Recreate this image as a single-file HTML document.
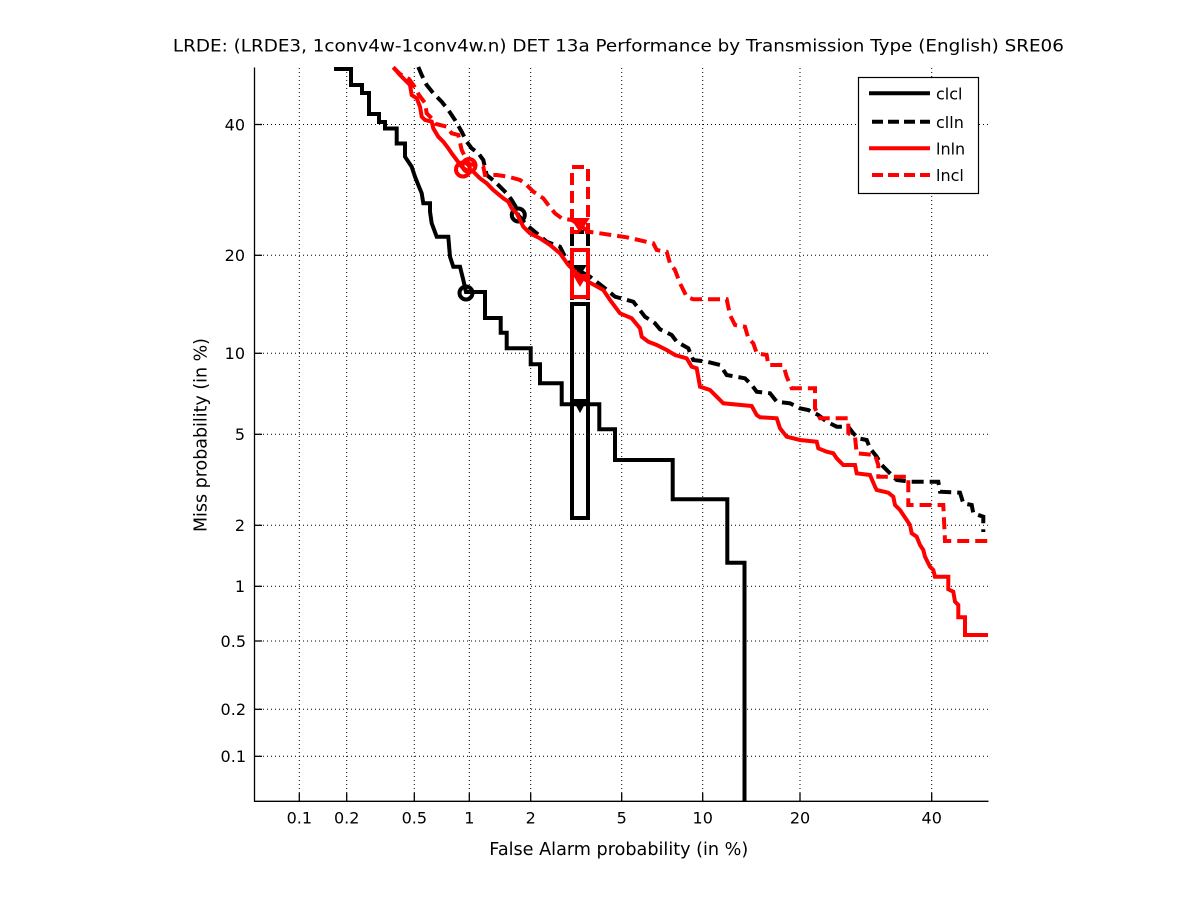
<!DOCTYPE html>
<html>
<head>
<meta charset="utf-8">
<style>
html,body{margin:0;padding:0;background:#fff;}
svg{display:block;}
text{font-family:"DejaVu Sans","Liberation Sans",sans-serif;fill:#000;}
</style>
</head>
<body>
<svg width="1201" height="900" viewBox="0 0 1201 900" xmlns="http://www.w3.org/2000/svg">
<rect x="0" y="0" width="1201" height="900" fill="#fff"/>

<!-- grid -->
<g stroke="#000" stroke-width="1" stroke-dasharray="1 3" fill="none">
  <line x1="299.3" y1="68" x2="299.3" y2="801"/>
  <line x1="346.7" y1="68" x2="346.7" y2="801"/>
  <line x1="414.3" y1="68" x2="414.3" y2="801"/>
  <line x1="469.3" y1="68" x2="469.3" y2="801"/>
  <line x1="530.7" y1="68" x2="530.7" y2="801"/>
  <line x1="621.7" y1="68" x2="621.7" y2="801"/>
  <line x1="702.7" y1="68" x2="702.7" y2="801"/>
  <line x1="800" y1="68" x2="800" y2="801"/>
  <line x1="931.7" y1="68" x2="931.7" y2="801"/>
  <line x1="255" y1="124.5" x2="988" y2="124.5"/>
  <line x1="255" y1="255.3" x2="988" y2="255.3"/>
  <line x1="255" y1="353.3" x2="988" y2="353.3"/>
  <line x1="255" y1="434.3" x2="988" y2="434.3"/>
  <line x1="255" y1="525.3" x2="988" y2="525.3"/>
  <line x1="255" y1="586.3" x2="988" y2="586.3"/>
  <line x1="255" y1="641" x2="988" y2="641"/>
  <line x1="255" y1="709.3" x2="988" y2="709.3"/>
  <line x1="255" y1="756.3" x2="988" y2="756.3"/>
</g>

<!-- axes -->
<g stroke="#000" stroke-width="1.3" fill="none">
  <line x1="254.5" y1="67.5" x2="254.5" y2="801.5"/>
  <line x1="254" y1="801.3" x2="988.5" y2="801.3"/>
  <line x1="254.5" y1="124.5" x2="262" y2="124.5"/>
  <line x1="254.5" y1="255.3" x2="262" y2="255.3"/>
  <line x1="254.5" y1="353.3" x2="262" y2="353.3"/>
  <line x1="254.5" y1="434.3" x2="262" y2="434.3"/>
  <line x1="254.5" y1="525.3" x2="262" y2="525.3"/>
  <line x1="254.5" y1="586.3" x2="262" y2="586.3"/>
  <line x1="254.5" y1="641" x2="262" y2="641"/>
  <line x1="254.5" y1="709.3" x2="262" y2="709.3"/>
  <line x1="254.5" y1="756.3" x2="262" y2="756.3"/>
  <line x1="299.3" y1="801" x2="299.3" y2="793"/>
  <line x1="346.7" y1="801" x2="346.7" y2="793"/>
  <line x1="414.3" y1="801" x2="414.3" y2="793"/>
  <line x1="469.3" y1="801" x2="469.3" y2="793"/>
  <line x1="530.7" y1="801" x2="530.7" y2="793"/>
  <line x1="621.7" y1="801" x2="621.7" y2="793"/>
  <line x1="702.7" y1="801" x2="702.7" y2="793"/>
  <line x1="800" y1="801" x2="800" y2="793"/>
  <line x1="931.7" y1="801" x2="931.7" y2="793"/>
</g>

<!-- tick labels -->
<g font-size="16" text-anchor="middle">
  <text x="299.3" y="823.5">0.1</text>
  <text x="346.7" y="823.5">0.2</text>
  <text x="414.3" y="823.5">0.5</text>
  <text x="469.3" y="823.5">1</text>
  <text x="530.7" y="823.5">2</text>
  <text x="621.7" y="823.5">5</text>
  <text x="702.7" y="823.5">10</text>
  <text x="800" y="823.5">20</text>
  <text x="931.7" y="823.5">40</text>
</g>
<g font-size="16" text-anchor="end">
  <text x="245" y="130.3">40</text>
  <text x="245" y="261.1">20</text>
  <text x="245" y="359.1">10</text>
  <text x="245" y="440.1">5</text>
  <text x="245" y="531.1">2</text>
  <text x="245" y="592.1">1</text>
  <text x="246" y="646.8">0.5</text>
  <text x="246" y="715.1">0.2</text>
  <text x="246" y="762.1">0.1</text>
</g>

<!-- title & labels -->
<text x="618.4" y="51.5" font-size="16.5" text-anchor="middle" textLength="891" lengthAdjust="spacingAndGlyphs">LRDE: (LRDE3, 1conv4w-1conv4w.n) DET 13a Performance by Transmission Type (English) SRE06</text>
<text x="618.8" y="855" font-size="18" text-anchor="middle" textLength="259" lengthAdjust="spacingAndGlyphs">False Alarm probability (in %)</text>
<text x="0" y="0" font-size="18" text-anchor="middle" textLength="194" lengthAdjust="spacingAndGlyphs" transform="translate(206.7,435) rotate(-90)">Miss probability (in %)</text>

<g fill="none" stroke-linejoin="miter" stroke-linecap="butt">
<!-- clcl: solid black -->
<path stroke="#000" stroke-width="4" d="M334,69 H351 V85 H362 V93 H369 V114 H379 V122 H385 V128.5 H396.7 V143.5 H405 V156.7 L411.7,166.7 L415,176.7 L418.3,185 L421.7,193.3 L423.3,203.3 H430 V211.7 L431.7,223.3 L436.7,236.7 H448.3 L450,256.7 L453.3,266.7 H460 L463.3,280 L466,292 H485 V318 H500.7 V332.7 H506.7 V348.3 H530.7 V364.3 H540 V383.3 H561.7 V404.3 H599.3 V429.3 H615 V460 H672.7 V499.3 H727.3 V562.7 H744.5 V801"/>
<rect x="572" y="304" width="16" height="214" stroke="#000" stroke-width="4"/>
<circle cx="466" cy="293" r="6.5" stroke="#000" stroke-width="4"/>
<polygon points="574,400 586,400 580,411" fill="#000" stroke="#000" stroke-width="2"/>

<!-- clln: dashed black -->
<path stroke="#000" stroke-width="4" stroke-dasharray="12 6" d="M418.3,67 L421.7,75 L426.7,85 L433.3,93.3 L441.7,101.7 L448.3,110 L455,120 L461.7,131.7 L466.7,141.7 L471.7,148.3 L478.3,153.3 L483.3,160 L486.7,175 L495,181.7 L500,186.7 L506.7,193.3 L511.7,200 L516.7,208.3 L518,215 L526.7,225 L536.7,233.3 L546.7,241.7 L560,246.7 L566.7,260 L571.7,266.7 L590,276.7 L605,288.3 L615,296.7 L633.3,301.7 L645,316.7 L655,323.3 L660,329.3 L671.7,335 L676.7,341.7 L688.3,348.3 L693.3,360 L706.7,361.7 L720,365 L726.7,375 L745,378.3 L751.7,385 L756.7,391.7 L770,393.3 L776.7,401.7 L790,403.3 L800,408.3 L808.3,410 L818.3,415 L826.7,421.7 L836.7,426.7 L848.3,426.7 L853.3,433.3 L858.3,438.3 L866.7,440 L870,448.3 L876.7,456.7 L881.7,465 L890,473.3 L896.7,480 L910,481.7 H938.3 L940,491.7 L960,492.7 L963.3,503.3 L971.7,505 L973.3,513.3 L983.3,516.7 V532"/>
<rect x="572" y="232" width="16" height="72" stroke="#000" stroke-width="4" stroke-dasharray="12 6"/>
<circle cx="518.3" cy="215" r="6.5" stroke="#000" stroke-width="4"/>
<polygon points="575,266 585,266 580,274" fill="#000" stroke="#000" stroke-width="2"/>

<!-- lnln: solid red -->
<path stroke="#f00" stroke-width="4" d="M393.3,67.3 L400,75 L405,80 L410,85 L411.7,95 L416.7,98.3 L420,106.7 L421.7,116.7 L425,120 L431.7,121.7 L433.3,128.3 L438.3,136.7 L443.3,141.7 L448.3,148.3 L451.7,153.3 L456.7,160 L461.7,166.7 L466,170 L473.3,171.7 L480,178.3 L486.7,183.3 L493.3,190 L503.3,198.3 L508.3,201.7 L511.7,208.3 L516.7,213.3 L523.3,226.7 L530,233.3 L540,238.3 L550,245 L560,253.3 L568.3,265 L576.7,273.3 L588.3,281.7 L603.3,290 L610,300 L620,313.3 L631.7,318.3 L640,328.3 L641.7,336.7 L648.3,341.7 L656.7,345 L666.7,350 L675,355 L686.7,358.3 L691.7,366.7 L696.7,368.3 L700,386.7 L710,390 L716.7,396.7 L723.3,403.3 L751.7,406 L756.7,415 L760,417.3 L776.7,418.3 L780,428.3 L786.7,436.7 L800,440 L816.7,441.7 L818.3,448.3 L826.7,451.7 L833.3,453.3 L836.7,458.3 L843.3,465 L855,465 L856.7,473.3 L870,475 L875,486.7 L876.7,490 L888.3,492.7 L893.3,496.7 L895,505 L900,510 L906.7,520 L910,525 L911.7,533.3 L916.7,536.7 L920,545 L923.3,550 L925,556.7 L930,566.7 L933.3,570 L935,576.7 H948.3 V589.3 L953.3,591.7 L955,601.7 L958.3,605 V617.3 H965 V635 H988"/>
<rect x="572" y="250" width="16" height="47" stroke="#f00" stroke-width="4"/>
<circle cx="463" cy="169.5" r="7" stroke="#f00" stroke-width="4"/>
<polygon points="574,275 586,275 580,285" fill="#f00" stroke="#f00" stroke-width="2"/>

<!-- lncl: dashed red -->
<path stroke="#f00" stroke-width="4" stroke-dasharray="12 6" d="M393.3,67.3 L400,74 L409,79 L414,86 L419,95 L425,103 L426.7,113.3 L431.7,118.3 L436,124 L446.7,126.7 L451.7,133.3 L458.3,135 L461.7,150 L465,156.7 L469,164 L483.3,166.7 L485,175 L496.7,175 L508.3,176.7 L520,180 L526.7,185 L533.3,191.7 L543.3,198.3 L548.3,205 L555,213.3 L561.7,218.3 L571.7,220 L580,225 L588.3,231.7 L600,233.3 L626.7,237.3 L653.3,243.3 L656.7,250 L666.7,251.7 L670,263.3 L675,270 L680,283.3 L686.7,296.7 L693.3,299.3 L726.7,299.3 L730,315 L735,325 L745,326.7 L748.3,338.3 L753.3,343.3 L756.7,353.3 L766.7,355 L768.3,365 L783.3,365 L786.7,376.7 L791.7,388.3 L815,388.3 V408.3 L820,418.3 H848.3 V433.3 L855,436.7 L856.7,453.3 L875,455 L878.3,465 V476.7 H908.3 V505 H943.3 L945,541 H988"/>
<rect x="572" y="167" width="16" height="65" stroke="#f00" stroke-width="4" stroke-dasharray="12 6"/>
<circle cx="469" cy="165.5" r="6.5" stroke="#f00" stroke-width="4"/>
<polygon points="572,219 588,219 580,231" fill="#f00" stroke="#f00" stroke-width="2"/>
</g>

<!-- legend -->
<rect x="858.5" y="77.5" width="120" height="116" fill="#fff" stroke="#000" stroke-width="1.2"/>
<g fill="none" stroke-width="4">
  <line x1="869" y1="93.3" x2="930" y2="93.3" stroke="#000"/>
  <line x1="872" y1="121.7" x2="930" y2="121.7" stroke="#000" stroke-dasharray="11 5"/>
  <line x1="869" y1="148.3" x2="930" y2="148.3" stroke="#f00"/>
  <line x1="872" y1="175" x2="930" y2="175" stroke="#f00" stroke-dasharray="11 5"/>
</g>
<g font-size="16">
  <text x="936" y="99.5">clcl</text>
  <text x="936" y="127.9">clln</text>
  <text x="936" y="154.5">lnln</text>
  <text x="936" y="181.2">lncl</text>
</g>
</svg>
</body>
</html>
